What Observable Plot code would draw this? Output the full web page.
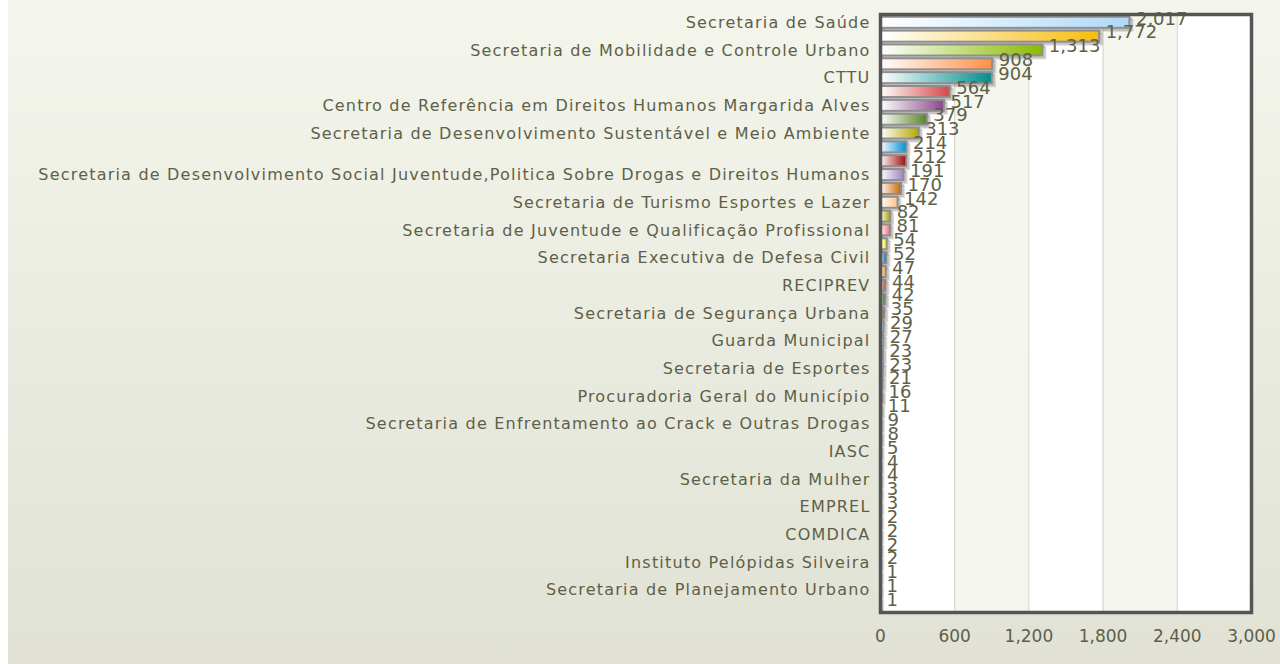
<!DOCTYPE html>
<html><head><meta charset="utf-8">
<script src="https://cdn.jsdelivr.net/npm/d3@7"></script>
<script src="https://cdn.jsdelivr.net/npm/@observablehq/plot@0.6"></script>
<style>
html,body{margin:0;padding:0;background:#fff;}
#chart{margin-left:8px;width:1272px;height:664px;background:linear-gradient(#F4F5EC,#E1E2D5);}
svg{display:block}
</style></head><body><div id="chart"></div>
<script>
const values = [2017,1772,1313,908,904,564,517,379,313,214,212,191,170,142,82,81,54,52,47,44,42,35,29,27,23,23,21,16,11,9,8,5,4,4,3,3,2,2,2,2,1,1,1];
const labels = [
  "Secretaria de Saúde","",
  "Secretaria de Mobilidade e Controle Urbano","",
  "CTTU","",
  "Centro de Referência em Direitos Humanos Margarida Alves","",
  "Secretaria de Desenvolvimento Sustentável e Meio Ambiente","","",
  "Secretaria de Desenvolvimento Social Juventude,Politica Sobre Drogas e Direitos Humanos","",
  "Secretaria de Turismo Esportes e Lazer","",
  "Secretaria de Juventude e Qualificação Profissional","",
  "Secretaria Executiva de Defesa Civil","",
  "RECIPREV","",
  "Secretaria de Segurança Urbana","",
  "Guarda Municipal","",
  "Secretaria de Esportes","",
  "Procuradoria Geral do Município","",
  "Secretaria de Enfrentamento ao Crack e Outras Drogas","",
  "IASC","",
  "Secretaria da Mulher","",
  "EMPREL","",
  "COMDICA","",
  "Instituto Pelópidas Silveira","",
  "Secretaria de Planejamento Urbano",""
];
const palette = ["#AFD8F8","#F6BD0F","#8BBA00","#FF8E46","#008E8E","#D64646","#8E468E","#588526","#B3AA00","#008ED6","#9D080D","#A186BE","#CC6600","#FDC689","#ABA000","#F26D7D","#FFF200","#0054A6","#F7941C","#CC3300","#006600","#663300","#6DCFF6"];
const xTicks = [0,600,1200,1800,2400,3000];

const rows = values.map((v,i)=>({i, v, grad:`url(#g${i % palette.length})`}));
const bands = d3.pairs(xTicks).map(([a,b],k)=>({a,b,fill: k%2 ? "#F5F6F0" : "#FFFFFF"}));
const fmt = d3.format(",");
const txt = "#5E5F48";

const defs = () => {
  const d = d3.create("svg:defs");
  palette.forEach((c,k)=>{
    const g = d.append("linearGradient").attr("id","g"+k).attr("x1",0).attr("x2",1).attr("y1",0).attr("y2",0);
    g.append("stop").attr("offset","0%").attr("stop-color","#ffffff");
    g.append("stop").attr("offset","100%").attr("stop-color",c);
  });
  return d.node();
};

const shadows = [1,2,3].map(s => Plot.barX(rows,{x:"v",y:"i",fill:"none",stroke:"#000",strokeOpacity:0.12,strokeWidth:2,dx:s,dy:s}));

const chart = Plot.plot({
  width:1272, height:664,
  marginLeft:872, marginRight:29, marginTop:14, marginBottom:52,
  style:{fontFamily:"'DejaVu Sans', Verdana, sans-serif", background:"transparent", color:txt},
  x:{domain:[0,3000]},
  y:{domain:d3.range(values.length), padding:0.2},
  color:{type:"identity"},
  marks:[
    defs,
    Plot.rect(bands,{x1:"a",x2:"b",fill:"fill"}),
    Plot.ruleX(xTicks.slice(1,-1),{stroke:"#D4D5C8"}),
    ...shadows,
    Plot.barX(rows,{x:"v",y:"i",fill:"grad",stroke:"#8E8E8E",strokeWidth:2}),
    Plot.text(rows,{x:"v",y:"i",text:d=>fmt(d.v),textAnchor:"start",dx:6,dy:-4,fontSize:18,fill:txt}),
    Plot.frame({stroke:"#555555",strokeWidth:3.5}),
    Plot.axisX({ticks:xTicks,tickFormat:d=>fmt(d),tickSize:0,tickPadding:17,fontSize:17,label:null,fill:txt}),
    Plot.axisY({tickFormat:i=>labels[i],tickSize:0,tickPadding:10,fontSize:16,label:null,fill:txt,letterSpacing:"1.2px"})
  ]
});
d3.select(chart).selectAll("[aria-label='y-axis tick label'] text, g[aria-label='y-axis tick label'] text").attr("letter-spacing","1.2px");
document.getElementById("chart").appendChild(chart);
</script></body></html>
